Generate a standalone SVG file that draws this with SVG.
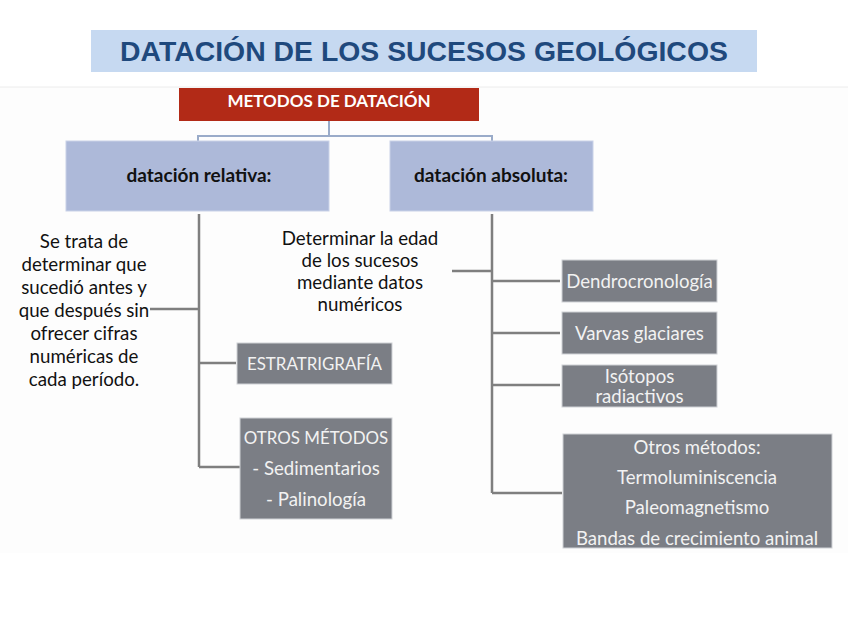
<svg xmlns="http://www.w3.org/2000/svg" width="848" height="636" viewBox="0 0 848 636">
<style>
.title{font-family:"Liberation Sans",Arial,sans-serif;font-weight:bold;font-size:28.4px;fill:#1f497d;text-anchor:middle}
.hdr{font-family:Lato,"Noto Sans",sans-serif;font-weight:bold;font-size:17px;fill:#ffffff;text-anchor:middle}
.cat{font-family:Lato,"Noto Sans",sans-serif;font-weight:bold;font-size:19px;fill:#111111;text-anchor:middle}
.desc{font-family:Lato,"Noto Sans",sans-serif;font-size:18.7px;fill:#111111;text-anchor:middle}
.gt{font-family:Lato,"Noto Sans",sans-serif;font-size:18.6px;fill:#f2f2f2;text-anchor:middle}
.caps{font-size:16.9px}
.gbox{fill:#7b7e85;stroke:#d0d2d6;stroke-width:1}
.cbox{fill:#adb9d9;stroke:#c9d2e8;stroke-width:1}
.gl{stroke:#7f7f7f;stroke-width:2.5;fill:none}
.bl{stroke:#9aabc9;stroke-width:2;fill:none}
</style>
<rect x="0" y="0" width="848" height="636" fill="#ffffff"/>
<rect x="0" y="87" width="848" height="466" fill="#fdfdfd"/>
<line x1="0" y1="87" x2="848" y2="87" stroke="#ececec" stroke-width="1"/>
<g id="title">
<rect x="91" y="30" width="666" height="42" fill="#c6d9f1"/>
<text class="title" x="424" y="61">DATACIÓN DE LOS SUCESOS GEOLÓGICOS</text>
</g>
<g id="connectors">
<path class="bl" d="M329 121 V136 M198 141 V136 H492 V141"/>
<path class="gl" d="M199 214 V467 M150 309 H199 M199 363 H236 M199 467 H240"/>
<path class="gl" d="M492 214 V493 M452 271 H492 M492 281 H560 M492 333 H560 M492 385 H560 M492 493 H562"/>
</g>
<g id="metodos">
<rect x="179" y="88" width="300" height="33" fill="#b22a17"/>
<text class="hdr" x="329" y="107">METODOS DE DATACIÓN</text>
</g>
<g id="relativa">
<rect class="cbox" x="66" y="141" width="263" height="70"/>
<text class="cat" x="199" y="182">datación relativa:</text>
</g>
<g id="absoluta">
<rect class="cbox" x="390" y="141" width="203" height="70"/>
<text class="cat" x="491" y="182">datación absoluta:</text>
</g>
<g id="desc-relativa">
<text class="desc" x="84" y="248">Se trata de</text>
<text class="desc" x="84" y="271">determinar que</text>
<text class="desc" x="84" y="294">sucedió antes y</text>
<text class="desc" x="84" y="317">que después sin</text>
<text class="desc" x="84" y="340">ofrecer cifras</text>
<text class="desc" x="84" y="363">numéricas de</text>
<text class="desc" x="84" y="386">cada período.</text>
</g>
<g id="desc-absoluta">
<text class="desc" x="360" y="245">Determinar la edad</text>
<text class="desc" x="360" y="267">de los sucesos</text>
<text class="desc" x="360" y="289">mediante datos</text>
<text class="desc" x="360" y="311">numéricos</text>
</g>
<g id="estratigrafia">
<rect class="gbox" x="237" y="343" width="155" height="41"/>
<text class="gt caps" x="314.5" y="370">ESTRATRIGRAFÍA</text>
</g>
<g id="otros-relativa">
<rect class="gbox" x="240" y="418" width="152" height="101"/>
<text class="gt caps" x="316" y="444">OTROS MÉTODOS</text>
<text class="gt" x="316" y="475">- Sedimentarios</text>
<text class="gt" x="316" y="506">- Palinología</text>
</g>
<g id="dendro">
<rect class="gbox" x="562" y="260" width="155" height="42"/>
<text class="gt" x="639.5" y="288">Dendrocronología</text>
</g>
<g id="varvas">
<rect class="gbox" x="562" y="312" width="155" height="42"/>
<text class="gt" x="639.5" y="340">Varvas glaciares</text>
</g>
<g id="isotopos">
<rect class="gbox" x="562" y="365" width="155" height="42"/>
<text class="gt" x="639.5" y="383">Isótopos</text>
<text class="gt" x="639.5" y="403">radiactivos</text>
</g>
<g id="otros-absoluta">
<rect class="gbox" x="563" y="434" width="269" height="114"/>
<text class="gt" x="697" y="454">Otros métodos:</text>
<text class="gt" x="697" y="484">Termoluminiscencia</text>
<text class="gt" x="697" y="514">Paleomagnetismo</text>
<text class="gt" x="697" y="545">Bandas de crecimiento animal</text>
</g>
</svg>
